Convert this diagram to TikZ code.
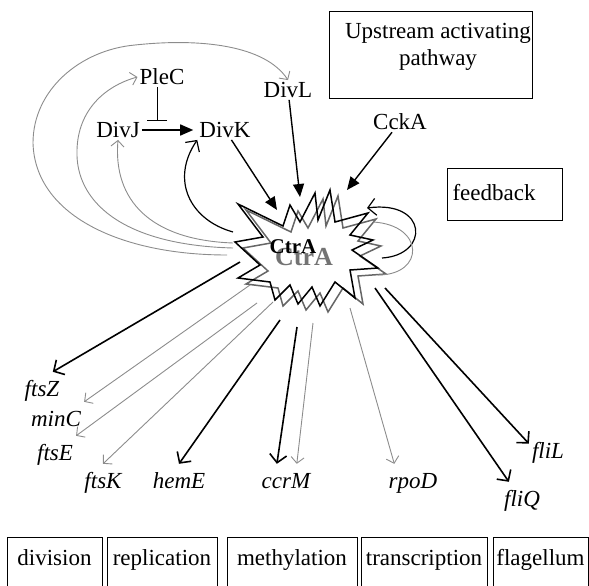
\documentclass[tikz,border=0pt]{standalone}
\usepackage{fontspec}
\setmainfont{Liberation Serif}
\usetikzlibrary{arrows.meta}

\newcommand{\burst}[1]{%
  \draw[#1] (238,204) -- (283,226) -- (290,205) -- (300,222) -- (315,193) -- (318,220)
    -- (330,190) -- (335,222) -- (368,213) -- (350,235) -- (373,240) -- (352,250)
    -- (378,268) -- (350,270) -- (355,298) -- (335,282) -- (320,306) -- (312,287)
    -- (298,304) -- (290,285) -- (275,300) -- (270,282) -- (238,278) -- (260,265)
    -- (235,242) -- (263,237) -- cycle;}

\begin{document}
\begin{tikzpicture}[x=1pt, y=-1pt,
  every node/.style={font=\fontsize{23}{27}\selectfont, inner sep=2pt},
  gene/.style={font=\fontsize{23}{27}\selectfont\itshape, text height=16pt, text depth=5pt, inner xsep=3pt, inner ysep=8pt},
  box/.style={draw, line width=1pt},
  cat/.style={box, anchor=north, text height=17pt, text depth=32pt, inner ysep=11pt, inner xsep=0pt},
  act/.style={line width=1.4pt, -{Triangle[length=13pt, width=11pt]}},
  reg/.style={line width=1.6pt, -{Straight Barb[length=8pt, width=17pt]}},
  weak/.style={line width=0.9pt, black!45, -{Straight Barb[length=6pt, width=13pt]}}]
  \useasboundingbox (0,0) rectangle (589,586);
  \clip (0,0) rectangle (589,586);

  % upstream part
  \node (plec) at (162,77) {PleC};
  \node (divj) at (118,130) {DivJ};
  \node (divk) at (225,130) {DivK};
  \node (divl) at (288,90) {DivL};
  \node (ccka) at (400,122) {CckA};
  \node[box, minimum width=203pt, minimum height=86pt] (upbox) at (430.5,55) {};
  \node[align=center] (uptext) at (438,46.5) {Upstream activating\\pathway};
  \node[box, minimum width=115pt, minimum height=52pt] (fbbox) at (504.5,194) {};
  \node (fbtext) at (494,193) {feedback};

  % CtrA
  \burst{black!60, fill=white, line width=1.5pt, shift={(8,6)}}
  \burst{black, line width=1.5pt}
  \node[font=\fontsize{26}{30}\selectfont\bfseries, text=black!55] (ctrashadow) at (304,257) {CtrA};
  \node[font=\fontsize{21}{25}\selectfont\bfseries] (ctra) at (293,247) {CtrA};

  \coordinate (t1) at (277,210);
  \coordinate (t2) at (300,197);
  \coordinate (t3) at (347,190);
  \coordinate (inh) at (157,121);
  \draw[act] (divk) -- (t1);
  \draw[act] (divl) -- (t2);
  \draw[act] (ccka) -- (t3);
  \draw[act, shorten >=4pt] (divj) -- (divk);
  \draw[line width=1pt, -{Bar[width=20pt]}] (inh |- plec.south) -- (inh);

  % back from CtrA
  \coordinate (g1) at (227,255);
  \coordinate (g2) at (233,248);
  \coordinate (g3) at (233,243);
  \coordinate (k1) at (233,232);
  \draw[weak] (g1) .. controls (120,255) and (35,215) .. (33,143)
    .. controls (33,90) and (80,50) .. (135,45) .. controls (200,38) and (265,45) .. (divl.north);
  \draw[weak] (g2) .. controls (120,245) and (75,200) .. (77,150)
    .. controls (78,110) and (105,86) .. (plec.west);
  \draw[weak] (g3) .. controls (150,240) and (113,200) .. (divj.south);
  \draw[reg, line width=1.2pt] (k1) .. controls (190,220) and (170,180) .. (divk.south west);

  % feedback loops
  \coordinate (fb1) at (382,258);
  \coordinate (fb2) at (367,208);
  \coordinate (fg1) at (378,275);
  \coordinate (fg2) at (373,222);
  \draw[reg, line width=1.2pt] (fb1) .. controls (430,255) and (428,200) .. (fb2);
  \draw[black!45, line width=0.9pt] (fg1) .. controls (425,275) and (425,225) .. (fg2);

  % targets
  \node[gene] (ftsz) at (42,390.5) {ftsZ};
  \node[gene] (minc) at (56,420.5) {minC};
  \node[gene] (ftse) at (55,454.5) {ftsE};
  \node[gene] (ftsk) at (103,482.5) {ftsK};
  \node[gene] (heme) at (179,482.5) {hemE};
  \node[gene] (ccrm) at (286,482.5) {ccrM};
  \node[gene] (rpod) at (413,482.5) {rpoD};
  \node[gene] (fliq) at (522,500.5) {fliQ};
  \node[gene] (flil) at (548,452.5) {fliL};

  \coordinate (o1) at (240,262);
  \coordinate (o2) at (250,285);
  \coordinate (o3) at (257,303);
  \coordinate (o4) at (273,302);
  \coordinate (o5) at (280,320);
  \coordinate (o6) at (297,327);
  \coordinate (o7) at (313,323);
  \coordinate (o8) at (350,308);
  \coordinate (o9) at (375,288);
  \coordinate (o10) at (385,288);
  \draw[reg] (o1) -- (ftsz.60);
  \draw[weak] (o2) -- (minc.north east);
  \draw[weak] (o3) -- (ftse.north east);
  \draw[weak] (o4) -- (ftsk.north);
  \draw[reg] (o5) -- (heme.north);
  \draw[reg] (o6) -- (ccrm.116);
  \draw[weak] (o7) -- (ccrm.60);
  \draw[weak] (o8) -- (rpod.135);
  \draw[reg] (o9) -- (fliq.125);
  \draw[reg] (o10) -- (flil.155);

  % categories
  \node[cat, minimum width=95pt] (division) at (54.5,537) {division};
  \node[cat, minimum width=110pt] (replication) at (162,537) {replication};
  \node[cat, minimum width=130pt] (methylation) at (292,537) {methylation};
  \node[cat, minimum width=126pt] (transcription) at (424,537) {transcription};
  \node[cat, minimum width=95pt] (flagellum) at (540.5,537) {flagellum};
\end{tikzpicture}
\end{document}
